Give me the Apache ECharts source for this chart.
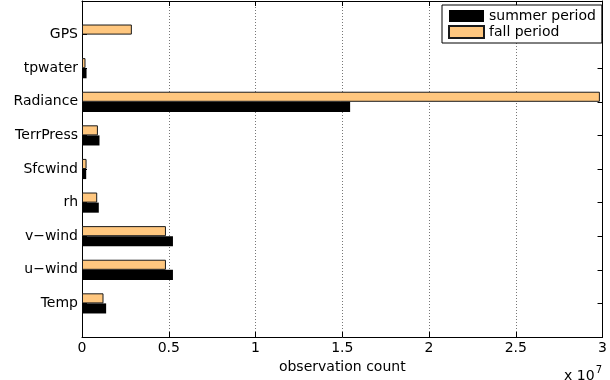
<!DOCTYPE html>
<html>
<head>
<meta charset="utf-8">
<script src="https://cdn.jsdelivr.net/npm/echarts@6/dist/echarts.min.js"></script>
<style>
  html, body { margin: 0; padding: 0; background: #fff; }
  #chart { width: 610px; height: 380px; }
</style>
</head>
<body>
<div id="chart"></div>
<script>
// Observation types, listed bottom to top
const categories = ['Temp', 'u\u2212wind', 'v\u2212wind', 'rh', 'Sfcwind', 'TerrPress', 'Radiance', 'tpwater', 'GPS'];
// Observation counts per period
const summerCounts = [1380000, 5200000, 5200000, 960000, 240000, 1000000, 15330000, 260000, 0];
const fallCounts   = [1230000, 4800000, 4800000, 870000, 260000, 910000, 29610000, 200000, 2850000];
// x-axis tick labels (in units of 1e7)
const xTickLabels = ['0', '0.5', '1', '1.5', '2', '2.5', '3'];
const seriesNames = ['summer period', 'fall period'];

const FONT = 'DejaVu Sans';
const X_MAX = 30000000;
const X_STEP = 5000000;

// Plot box: the frame spans 10 category units, bars occupy the middle 9
const plotLeft = 82, plotRight = 3.3, plotTop = 1, plotBottom = 43;
const plotH = 380 - plotTop - plotBottom;
const unit = plotH / 10;

const chart = echarts.init(document.getElementById('chart'), null, { renderer: 'canvas' });

const hiddenTick = { show: false };
chart.setOption({
  animation: false,
  backgroundColor: '#fff',
  textStyle: { fontFamily: FONT, color: '#000' },
  title: {
    right: 3,
    top: 360,
    text: '{a|x 10}{s|7}',
    textStyle: {
      fontWeight: 'normal',
      rich: {
        a: { fontFamily: FONT, fontSize: 14, fontWeight: 'normal', color: '#000', verticalAlign: 'bottom', lineHeight: 18 },
        s: { fontFamily: FONT, fontSize: 10, fontWeight: 'normal', color: '#000', verticalAlign: 'top', lineHeight: 18, padding: [0, 0, 6, 1] }
      }
    }
  },
  legend: {
    left: 442,
    top: 5,
    orient: 'vertical',
    data: seriesNames,
    backgroundColor: '#fff',
    borderColor: '#000',
    borderWidth: 1,
    padding: [4, 6, 4, 6],
    itemWidth: 35,
    itemHeight: 12,
    itemGap: 2,
    icon: 'rect',
    textStyle: { fontFamily: FONT, fontSize: 14, color: '#000', lineHeight: 14 }
  },
  grid: [
    // frame grid: box, ticks, dotted grid lines, tick labels
    { left: plotLeft, right: plotRight, top: plotTop, bottom: plotBottom },
    // bar grid: nine category bands inside the frame
    { left: plotLeft, right: plotRight, top: plotTop + unit / 2, bottom: plotBottom + unit / 2 }
  ],
  xAxis: [
    {
      gridIndex: 0, type: 'value', position: 'bottom', min: 0, max: X_MAX, interval: X_STEP,
      name: 'observation count', nameLocation: 'middle', nameGap: 19,
      nameTextStyle: { fontFamily: FONT, fontSize: 14, color: '#000' },
      axisLine: { show: true, lineStyle: { color: '#000', width: 1 } },
      axisTick: { show: true, inside: true, length: 5, lineStyle: { color: '#000' } },
      axisLabel: {
        show: true, margin: 4, fontFamily: FONT, fontSize: 14, color: '#000',
        formatter: (v) => xTickLabels[Math.round(v / X_STEP)]
      },
      splitLine: { show: true, lineStyle: { color: '#777', type: [1, 2], width: 1 } }
    },
    {
      gridIndex: 0, type: 'value', position: 'top', min: 0, max: X_MAX, interval: X_STEP,
      axisLine: { show: true, onZero: false, lineStyle: { color: '#000', width: 1 } },
      axisTick: { show: true, inside: true, length: 5, lineStyle: { color: '#000' } },
      axisLabel: { show: false },
      splitLine: { show: false }
    },
    {
      gridIndex: 1, type: 'value', min: 0, max: X_MAX, show: false
    }
  ],
  yAxis: [
    {
      gridIndex: 0, type: 'value', position: 'left', min: 0, max: 10, interval: 1,
      axisLine: { show: true, onZero: false, lineStyle: { color: '#000', width: 1 } },
      axisTick: { show: true, inside: true, length: 5, lineStyle: { color: '#000' } },
      axisLabel: { show: false },
      splitLine: { show: false }
    },
    {
      gridIndex: 0, type: 'value', position: 'right', min: 0, max: 10, interval: 1,
      axisLine: { show: true, onZero: false, lineStyle: { color: '#000', width: 1 } },
      axisTick: { show: true, inside: true, length: 5, lineStyle: { color: '#000' } },
      axisLabel: { show: false },
      splitLine: { show: false }
    },
    {
      gridIndex: 1, type: 'category', data: categories,
      axisLine: { show: false },
      axisTick: hiddenTick,
      axisLabel: { margin: 4, fontFamily: FONT, fontSize: 14, color: '#000' },
      splitLine: { show: false }
    }
  ],
  // fall listed first so it sits above summer in each band
  series: [
    {
      name: seriesNames[1], type: 'bar', xAxisIndex: 2, yAxisIndex: 2,
      data: fallCounts, barWidth: '30%', barGap: '0%',
      itemStyle: { color: '#ffc77f', borderColor: '#1a1a1a', borderWidth: 1 }
    },
    {
      name: seriesNames[0], type: 'bar', xAxisIndex: 2, yAxisIndex: 2,
      data: summerCounts, barWidth: '30%', barGap: '0%',
      itemStyle: { color: '#000', borderWidth: 0 }
    }
  ]
});
</script>
</body>
</html>
